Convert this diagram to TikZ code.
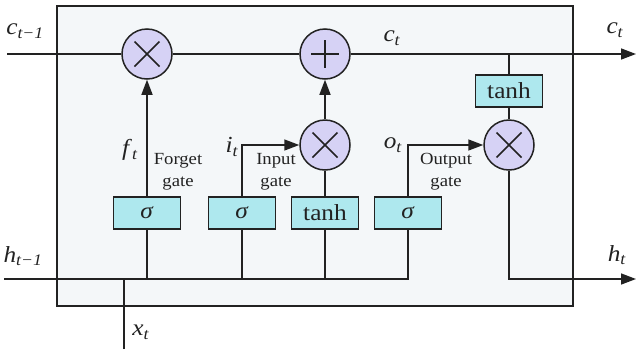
\documentclass[tikz,border=0pt]{standalone}
\usepackage{fontspec}
\setmainfont[FakeStretch=1.1]{Liberation Serif}
\usetikzlibrary{arrows.meta}
\definecolor{bgc}{HTML}{F4F7F9}
\definecolor{circc}{HTML}{D6D2F5}
\definecolor{boxc}{HTML}{AEE8EE}
\definecolor{linec}{HTML}{222222}
\newcommand\lsub[2]{\textit{#1}\textsubscript{\textit{#2}}}
\begin{document}
\begin{tikzpicture}[x=1pt,y=-1pt,line width=1.5pt,color=linec,
  op/.style={circle,draw,fill=circc,minimum size=50pt,inner sep=0pt},
  gatebox/.style={rectangle,draw,fill=boxc,minimum width=67pt,minimum height=32pt,inner sep=0pt,font=\fontsize{23}{27}\selectfont},
  lbl/.style={font=\fontsize{23}{27}\selectfont,inner sep=0pt},
  gtxt/.style={font=\fontsize{17}{22}\selectfont,align=center,inner sep=0pt},
  arr/.style={-{Triangle[length=15pt,width=11pt]}}]
\useasboundingbox (0,0) rectangle (640,354);
\draw[fill=bgc] (57,6) rectangle (573,306);

% coordinates
\coordinate (cin) at (7,54);
\coordinate (cout) at (636,54);
\coordinate (hin) at (4,279);
\coordinate (hout) at (636,279);
\coordinate (xin) at (124,349);
\coordinate (xj) at (124,279);

% operators
\node[op] (fx) at (147,54) {};
\node[op] (plus) at (325,54) {};
\node[op] (ix) at (325,145) {};
\node[op] (ox) at (509,145) {};

% boxes
\node[gatebox] (tanhc) at (509,91) {tanh};
\node[gatebox] (sf) at (147,213) {\textit{σ}};
\node[gatebox] (si) at (242,213) {\textit{σ}};
\node[gatebox] (tg) at (325,213) {tanh};
\node[gatebox] (so) at (408,213) {\textit{σ}};

% symbols in circles
\foreach \n in {fx,ix,ox}{
  \draw ([shift={(-12.5,-12.5)}]\n.center) -- ([shift={(12.5,12.5)}]\n.center);
  \draw ([shift={(-12.5,12.5)}]\n.center) -- ([shift={(12.5,-12.5)}]\n.center);
}
\draw ([shift={(-14,0)}]plus.center) -- ([shift={(14,0)}]plus.center);
\draw ([shift={(0,-14)}]plus.center) -- ([shift={(0,14)}]plus.center);

% cell state line
\draw (cin) -- (fx);
\draw (fx) -- (plus);
\draw[arr] (plus) -- (cout);
\draw (tanhc) -- (tanhc |- cin);
\draw (tanhc) -- (ox);
\draw[arr] (ox) |- (hout);

% hidden/input line
\draw (hin) -| (so);
\draw (sf |- hin) -- (sf);
\draw (si |- hin) -- (si);
\draw (tg |- hin) -- (tg);
\draw (xin) -- (xj);

% gate arrows
\draw[arr] (sf) -- (fx);
\draw[arr] (si) |- (ix);
\draw (tg) -- (ix);
\draw[arr] (ix) -- (plus);
\draw[arr] (so) |- (ox);

% labels
\node[lbl] (lcin) at (25,31) {\lsub{c}{t−1}};
\node[lbl] (lct) at (392,38) {\lsub{c}{t}};
\node[lbl] (lcout) at (615,30) {\lsub{c}{t}};
\node[lbl] (lft) at (130,150) {\lsub{f}{t}};
\node[lbl] (lit) at (232,147) {\lsub{i}{t}};
\node[lbl] (lot) at (393,145) {\lsub{o}{t}};
\node[lbl] (lhin) at (23,256) {\lsub{h}{t−1}};
\node[lbl] (lxt) at (141,332) {\lsub{x}{t}};
\node[lbl] (lht) at (617,255) {\lsub{h}{t}};
\node[gtxt] (gf) at (178,172) {Forget\\gate};
\node[gtxt] (gi) at (276,172) {Input\\gate};
\node[gtxt] (go) at (446,172) {Output\\gate};
\end{tikzpicture}
\end{document}
